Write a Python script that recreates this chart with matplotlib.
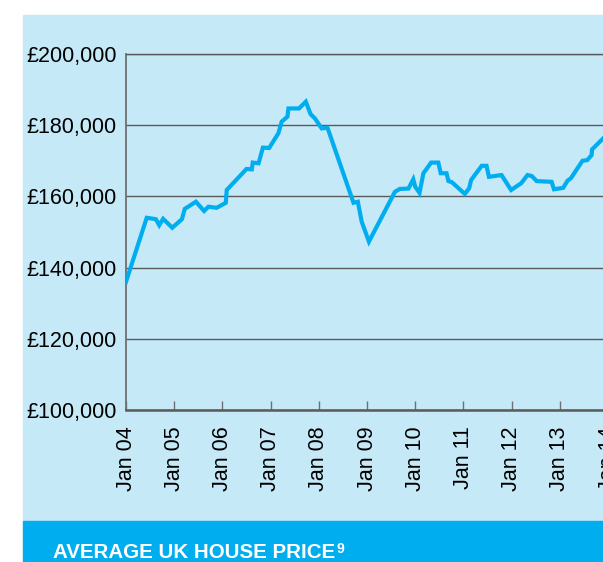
import matplotlib
matplotlib.use("Agg")
import matplotlib.pyplot as plt
from matplotlib.patches import Rectangle

years = [2004.00, 2004.43, 2004.62, 2004.69, 2004.77, 2004.96, 2005.16, 2005.22,
         2005.45, 2005.62, 2005.71, 2005.88, 2006.07, 2006.09, 2006.50, 2006.61,
         2006.63, 2006.75, 2006.84, 2006.97, 2007.16, 2007.23, 2007.35, 2007.37,
         2007.59, 2007.73, 2007.83, 2007.92, 2008.06, 2008.18, 2008.72, 2008.81,
         2008.89, 2009.04, 2009.58, 2009.68, 2009.86, 2009.96, 2010.00, 2010.09,
         2010.17, 2010.33, 2010.48, 2010.53, 2010.65, 2010.69, 2010.76, 2011.03,
         2011.12, 2011.16, 2011.38, 2011.48, 2011.53, 2011.79, 2011.99, 2012.20,
         2012.33, 2012.42, 2012.52, 2012.83, 2012.88, 2013.07, 2013.16, 2013.23,
         2013.47, 2013.57, 2013.66, 2013.67, 2013.90]
price_k = [136.0, 154.0, 153.6, 151.9, 153.7, 151.2, 153.6, 156.5,
           158.5, 155.9, 157.1, 156.8, 158.2, 161.8, 167.7, 167.6,
           169.5, 169.3, 173.7, 173.6, 177.7, 181.0, 182.4, 184.7,
           184.7, 186.6, 183.1, 181.9, 179.1, 179.3, 158.2, 158.5,
           152.9, 147.3, 161.3, 162.1, 162.2, 164.8, 162.7, 161.0,
           166.5, 169.5, 169.5, 166.5, 166.5, 164.3, 164.0, 160.7,
           162.3, 164.6, 168.6, 168.6, 165.5, 166.0, 161.8, 163.7,
           166.0, 165.7, 164.3, 164.1, 162.0, 162.4, 164.4, 165.1,
           170.0, 170.2, 171.6, 173.2, 176.3]

tick_years = list(range(2004, 2015))
tick_labels = ["Jan %02d" % (y % 100) for y in tick_years]
y_ticks = [100, 120, 140, 160, 180, 200]
y_labels = ["£%d,000" % v for v in y_ticks]
title = "AVERAGE UK HOUSE PRICE"

panel = "#c6e9f8"
blue = "#00aeef"
grey = "#5a5a5a"

plt.rcParams["font.family"] = ["Liberation Sans", "DejaVu Sans"]

W, H = 603, 562
fig = plt.figure(figsize=(W / 100, H / 100), dpi=100)
fig.patch.set_facecolor("white")

# background panel and title bar
fig.add_artist(Rectangle((23 / W, 1 - 521 / H), 1, (521 - 15) / H,
                         transform=fig.transFigure, color=panel, zorder=0))
fig.add_artist(Rectangle((23 / W, 0), 1, (H - 521) / H,
                         transform=fig.transFigure, color=blue, zorder=0))

px_per_year = 48.2
x_right = 2014.3
ax = fig.add_axes([126 / W, (H - 410) / H,
                   (x_right - 2004) * px_per_year / W, 356 / H])
ax.set_facecolor("none")

ax.plot(years, price_k, color=blue, lw=3.0, solid_joinstyle="miter", zorder=3)

ax.set_xlim(2004, x_right)
ax.set_ylim(100, 200)
ax.set_yticks(y_ticks)
ax.set_yticklabels(y_labels)
ax.set_xticks(tick_years)
ax.set_xticklabels(tick_labels, rotation=90)

ax.grid(axis="y", color=grey, lw=1.0)
ax.set_axisbelow(True)
ax.spines["right"].set_visible(False)
ax.spines["top"].set_color(grey)
ax.spines["top"].set_linewidth(1.0)
ax.spines["left"].set_color("#707070")
ax.spines["left"].set_linewidth(1.3)
ax.spines["bottom"].set_color(grey)
ax.spines["bottom"].set_linewidth(1.8)

ax.tick_params(axis="y", length=0, pad=6.5, labelsize=15.5, colors="black")
ax.tick_params(axis="x", direction="in", length=6.5, width=1.0, color="#707070",
               pad=12, labelsize=15.5, labelcolor="black")

t = fig.text(53 / W, 1 - 558 / H, title, color="white", fontsize=14.8,
             fontweight="bold", ha="left", va="baseline")
fig.canvas.draw()
bb = t.get_window_extent()
fig.text((bb.x1 + 1) / W, 1 - 553 / H, "9", color="white", fontsize=10,
         fontweight="bold", ha="left", va="baseline")

fig.savefig("out.png", dpi=100, facecolor=fig.get_facecolor())
